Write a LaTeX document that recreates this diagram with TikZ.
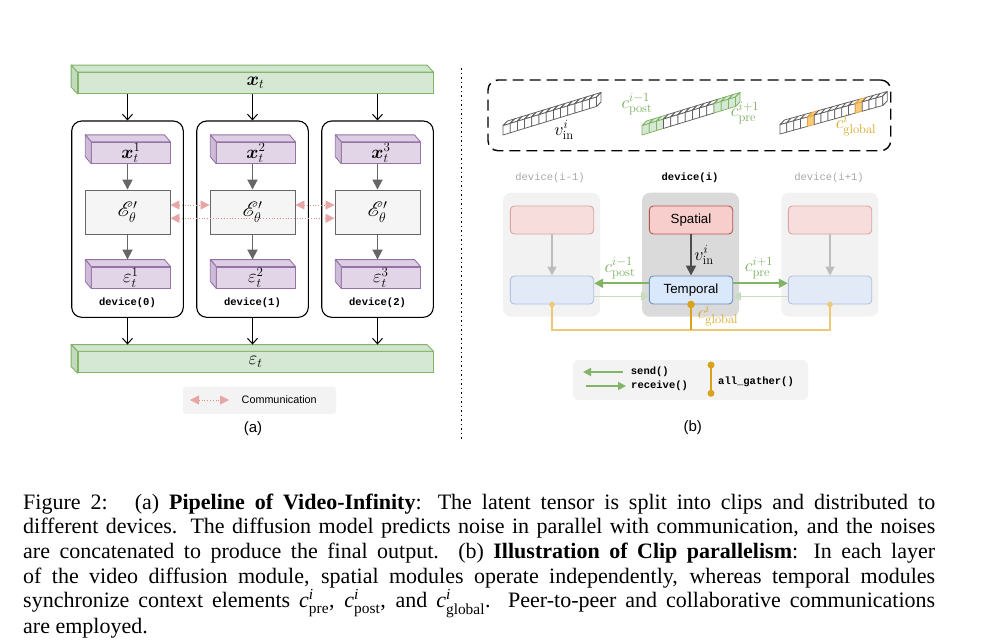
\RequirePackage{fix-cm}
\documentclass[tikz,border=0pt]{standalone}
\usepackage{fontspec}
\usepackage{amsmath,amssymb,mathrsfs,bm}
\setsansfont{Liberation Sans}
\setmonofont{Liberation Mono}
\newfontfamily\capfont{Liberation Serif}
\usetikzlibrary{arrows.meta,calc}

\definecolor{gfill}{HTML}{D5E8D4}
\definecolor{gtop}{HTML}{D0E5CE}
\definecolor{gside}{HTML}{C2DBBF}
\definecolor{gstroke}{HTML}{82B366}
\definecolor{pfill}{HTML}{E1D5E7}
\definecolor{ptop}{HTML}{DCCFE3}
\definecolor{pside}{HTML}{CDBCD7}
\definecolor{pstroke}{HTML}{9673A6}
\definecolor{efill}{HTML}{F5F5F5}
\definecolor{estroke}{HTML}{666666}
\definecolor{commhead}{HTML}{E8A5A5}
\definecolor{commline}{HTML}{E58C8C}
\definecolor{legbg}{HTML}{F3F3F3}
\definecolor{bgL}{HTML}{F2F2F2}
\definecolor{bgM}{HTML}{DADADA}
\definecolor{fadetxt}{HTML}{A8A8A8}
\definecolor{sfill}{HTML}{F8CECC}
\definecolor{sstroke}{HTML}{B85450}
\definecolor{sfillF}{HTML}{F7DEDD}
\definecolor{sstrokeF}{HTML}{D9A5A3}
\definecolor{tfill}{HTML}{DAE8FC}
\definecolor{tstroke}{HTML}{6C8EBF}
\definecolor{tfillF}{HTML}{E2EAF8}
\definecolor{tstrokeF}{HTML}{AFC1DF}
\definecolor{farrow}{HTML}{BDBDBD}
\definecolor{fgreen}{HTML}{C8DDBD}
\definecolor{gold}{HTML}{D9A21B}
\definecolor{goldF}{HTML}{EACA78}
\definecolor{glabel}{HTML}{78AD5C}
\definecolor{ofill}{HTML}{F8CB7A}
\definecolor{ostroke}{HTML}{E6A23C}
\definecolor{cubeedge}{HTML}{606060}
\definecolor{darkarr}{HTML}{4D4D4D}

\newcommand\prismfaces[6]{%
  \filldraw[draw=#6, fill=#4, line width=0.9pt, line join=round]
    (#1.north west) -- ++(-#2,-#3) -- ($(#1.north east)+(-#2,-#3)$) -- (#1.north east) -- cycle;
  \filldraw[draw=#6, fill=#5, line width=0.9pt, line join=round]
    (#1.north west) -- ++(-#2,-#3) -- ($(#1.south west)+(-#2,-#3)$) -- (#1.south west) -- cycle;
}
% one cube: bottom-left (x,y), step ux, rise r, fill, stroke
\newcommand\onecube[6]{%
  \filldraw[draw=#6, fill=#5, line width=0.75pt, line join=round]
    (#1,#2) -- ++(#3,-#4) -- ++(0,-9.5) -- ++(-#3,#4) -- cycle;
  \filldraw[draw=#6, fill=#5, line width=0.75pt, line join=round]
    (#1,#2-9.5) -- ++(#3,-#4) -- ++(4.5,-4.5) -- ++(-#3,#4) -- cycle;
}
\newcommand\cubeend[6]{%
  \filldraw[draw=#6, fill=#5, line width=0.75pt, line join=round]
    (#1+#3,#2-#4) -- ++(4.5,-4.5) -- ++(0,-9.5) -- ++(-4.5,4.5) -- cycle;
}
\newcommand\ctxsym[1]{$\textit{c}^{\textit{i}}_{\text{#1}}$}

\begin{document}
\begin{tikzpicture}[x=1pt,y=-1pt,
  bar/.style={draw=gstroke, fill=gfill, line width=0.9pt, minimum width=355pt, minimum height=21pt, inner sep=0, font=\fontsize{19}{22}\selectfont},
  pbox/.style={draw=pstroke, fill=pfill, line width=0.9pt, minimum width=78.3pt, minimum height=21pt, inner sep=0, font=\fontsize{18.5}{21}\selectfont},
  ebox/.style={draw=estroke, fill=efill, line width=0.9pt, minimum width=85pt, minimum height=44pt, inner sep=0, font=\fontsize{20}{23}\selectfont},
  devbox/.style={draw=black, rounded corners=10pt, line width=1.1pt, minimum width=111.6pt, minimum height=196.3pt, inner sep=0},
  blk/.style={draw=black, line width=1pt, -{Straight Barb[length=5.5pt,width=10pt]}},
  gry/.style={draw=estroke, line width=1.8pt, -{Triangle[length=10pt,width=10pt]}},
  comm/.style={draw=commline, dotted, line width=0.8pt,
     {Triangle[length=9pt,width=9pt,fill=commhead,color=commhead]}-{Triangle[length=9pt,width=9pt,fill=commhead,color=commhead]}},
  devlbl/.style={font=\fontsize{10.5}{12}\selectfont\ttfamily\bfseries, inner sep=0},
  mono/.style={font=\fontsize{10.5}{12}\selectfont\ttfamily\bfseries, inner sep=0},
  mathb/.style={font=\fontsize{18}{21}\selectfont, inner sep=0},
  sbox/.style={draw=sstroke, fill=sfill, line width=0.9pt, rounded corners=4pt, minimum width=83.4pt, minimum height=28pt, inner sep=0, font=\fontsize{13.3}{16}\selectfont\sffamily},
  sboxF/.style={draw=sstrokeF, fill=sfillF, line width=0.9pt, rounded corners=4pt, minimum width=83.4pt, minimum height=28pt, inner sep=0},
  tbox/.style={draw=tstroke, fill=tfill, line width=0.9pt, rounded corners=4pt, minimum width=83.4pt, minimum height=28pt, inner sep=0, font=\fontsize{13.3}{16}\selectfont\sffamily},
  tboxF/.style={draw=tstrokeF, fill=tfillF, line width=0.9pt, rounded corners=4pt, minimum width=83.4pt, minimum height=28pt, inner sep=0},
  bgbox/.style={rounded corners=8pt, minimum width=97pt, minimum height=124pt, inner sep=0},
  darr/.style={draw=darkarr, line width=2pt, -{Triangle[length=10pt,width=10pt]}},
  farr/.style={draw=farrow, line width=1.3pt, -{Triangle[length=9pt,width=9pt]}},
  garr/.style={draw=gstroke, line width=2pt, -{Triangle[length=9pt,width=9pt]}},
  garrS/.style={draw=gstroke, line width=1.8pt, -{Triangle[length=8pt,width=8pt]}},
  fgarr/.style={draw=fgreen, line width=1.5pt, -{Triangle[length=8pt,width=8pt]}},
]
\useasboundingbox (0,0) rectangle (1000,640);

% ================= (a) =================
\node[bar] (xt) at (255.5,83) {$\bm{x}_t$};
\prismfaces{xt}{6.5}{7}{gtop}{gside}{gstroke}

\foreach \i/\cx in {1/127.5, 2/252.5, 3/377.5}{
  \pgfmathtruncatemacro\dn{\i-1}
  \node[devbox] (dev\i) at (\cx,219.15) {};
  \node[pbox] (x\i) at (\cx+3.35,152.8) {$\bm{x}_t^{\i}$};
  \prismfaces{x\i}{6}{7}{ptop}{pside}{pstroke}
  \node[ebox] (E\i) at (\cx,212) {$\mathscr{E}'_\theta$};
  \node[pbox] (e\i) at (\cx+3.35,277.5) {$\varepsilon_t^{\i}$};
  \prismfaces{e\i}{6}{7}{ptop}{pside}{pstroke}
  \node[devlbl] (d\i) at (\cx,302.7) {device(\dn)};
  \draw[blk] (xt.south -| dev\i.north) -- (dev\i.north);
  \draw[gry] (x\i.south -| E\i.north) -- (E\i.north);
  \draw[gry] (E\i.south) -- ($(E\i.south |- e\i.north)+(0,-7)$);
}

\node[bar] (et) at (255.5,362.2) {$\varepsilon_t$};
\prismfaces{et}{6.5}{6.7}{gtop}{gside}{gstroke}
\foreach \i in {1,2,3}{
  \draw[blk] (dev\i.south) -- ($(dev\i.south |- et.north)+(0,-6.7)$);
}

\draw[comm] ([yshift=7pt]E1.east) -- ([yshift=7pt]E2.west);
\draw[comm] ([yshift=7pt]E2.east) -- ([yshift=7pt]E3.west);
\draw[comm] ([yshift=-6.3pt]E1.east) -- ([yshift=-6.3pt]E3.west);

\node[fill=legbg, rounded corners=3pt, minimum width=153pt, minimum height=27.3pt, inner sep=0] (lega) at (259.5,400.3) {};
\coordinate (ca1) at (190,400);
\coordinate (ca2) at (229,400);
\draw[comm] (ca1) -- (ca2);
\node[anchor=west, inner sep=0, font=\fontsize{10.8}{13}\selectfont\sffamily] (commtxt) at (241.5,400) {Communication};
\node[inner sep=0, font=\fontsize{15}{18}\selectfont\sffamily] (la) at (253,429) {(a)};

% divider
\draw[line width=1pt, dash pattern=on 1.5pt off 3pt] (461,68) -- (461,440);

% ================= (b) =================
\node[draw, dash pattern=on 11pt off 6pt, line width=1.4pt, rounded corners=10pt, minimum width=402.7pt, minimum height=70.7pt, inner sep=0] (ctxbox) at (689.35,115.35) {};

% strip 1
\foreach \k in {0,...,12}{
  \pgfmathsetmacro\px{503+7.2*\k}
  \pgfmathsetmacro\py{135-2.2*\k}
  \onecube{\px}{\py}{7.2}{2.2}{white}{cubeedge}
}
\cubeend{589.4}{108.6}{7.2}{2.2}{white}{cubeedge}
% strip 2
\foreach \k in {0,...,12}{
  \pgfmathsetmacro\px{642+7.2*\k}
  \pgfmathsetmacro\py{135-2.2*\k}
  \ifnum\k<3 \def\cf{gfill}\def\cs{gstroke}\else
    \ifnum\k>9 \def\cf{gfill}\def\cs{gstroke}\else \def\cf{white}\def\cs{cubeedge}\fi\fi
  \onecube{\px}{\py}{7.2}{2.2}{\cf}{\cs}
}
\cubeend{728.4}{108.6}{7.2}{2.2}{gfill}{gstroke}
% strip 3
\foreach \k in {0,...,14}{
  \pgfmathsetmacro\px{780+6.85*\k}
  \pgfmathsetmacro\py{134-1.9*\k}
  \ifnum\k=4 \def\cf{ofill}\def\cs{ostroke}\else
    \ifnum\k=11 \def\cf{ofill}\def\cs{ostroke}\else \def\cf{white}\def\cs{cubeedge}\fi\fi
  \onecube{\px}{\py}{6.85}{1.9}{\cf}{\cs}
}
\cubeend{875.9}{107.4}{6.85}{1.9}{white}{cubeedge}

\node[mathb] (vin) at (564,130) {$v_{\mathrm{in}}^{i}$};
\node[mathb, text=glabel] (cpost) at (637,104) {$c_{\mathrm{post}}^{i-1}$};
\node[mathb, text=glabel] (cpre) at (745,113) {$c_{\mathrm{pre}}^{i+1}$};
\node[mathb, text=gold] (cglob) at (856,125) {$c_{\mathrm{global}}^{i}$};

% devices
\node[font=\fontsize{10.5}{12}\selectfont\ttfamily, text=fadetxt, inner sep=0] (dlL) at (550,178) {device(i-1)};
\node[devlbl] (dlM) at (690,178) {device(i)};
\node[font=\fontsize{10.5}{12}\selectfont\ttfamily, text=fadetxt, inner sep=0] (dlR) at (829,178) {device(i+1)};

\node[bgbox, fill=bgL] (bgL) at (551.5,254.7) {};
\node[bgbox, fill=bgM] (bgM) at (690.5,254.7) {};
\node[bgbox, fill=bgL] (bgR) at (829.8,254.7) {};

\node[sbox] (spM) at (691,220) {Spatial};
\node[sboxF] (spL) at (552,220) {};
\node[sboxF] (spR) at (830,220) {};
\node[tbox] (tpM) at (691,290) {Temporal};
\node[tboxF] (tpL) at (552,290) {};
\node[tboxF] (tpR) at (830,290) {};

\draw[darr] (spM) -- (tpM);
\draw[farr] (spL) -- (tpL);
\draw[farr] (spR) -- (tpR);

\draw[garr] ([yshift=6.7pt]tpM.west) -- ([yshift=6.7pt]tpL.east);
\draw[garr] ([yshift=6.7pt]tpM.east) -- ([yshift=6.7pt]tpR.west);
\draw[fgarr] ([yshift=-6.3pt]tpL.east) -- ([yshift=-6.3pt]tpM.west);
\draw[fgarr] ([yshift=-6.3pt]tpR.west) -- ([yshift=-6.3pt]tpM.east);

\coordinate (gbus) at (691,330);
\draw[goldF, line width=1.3pt] (tpL.south) -- (tpL.south |- gbus) -- (tpR.south |- gbus) -- (tpR.south);
\fill[goldF] (tpL.south) circle[radius=2.8pt];
\fill[goldF] (tpR.south) circle[radius=2.8pt];
\draw[gold, line width=2pt] (tpM.south) -- (tpM.south |- gbus);
\fill[gold] (tpM.south) circle[radius=3.8pt];

\node[mathb] (vin2) at (704,255) {$v_{\mathrm{in}}^{i}$};
\node[mathb, text=glabel] (cpost2) at (620,268) {$c_{\mathrm{post}}^{i-1}$};
\node[mathb, text=glabel] (cpre2) at (759,268) {$c_{\mathrm{pre}}^{i+1}$};
\node[mathb, text=gold] (cglob2) at (718,315) {$c_{\mathrm{global}}^{i}$};

% legend (b)
\node[fill=legbg, rounded corners=6pt, minimum width=235pt, minimum height=40pt, inner sep=0] (legb) at (690.5,380) {};
\coordinate (s1) at (623,372);
\coordinate (s2) at (583,372);
\draw[garrS] (s1) -- (s2);
\coordinate (r1) at (586,386);
\coordinate (r2) at (626,386);
\draw[garrS] (r1) -- (r2);
\node[mono, anchor=west] (sendt) at (630.7,372) {send()};
\node[mono, anchor=west] (recvt) at (631,386) {receive()};
\coordinate (ag1) at (711,365);
\coordinate (ag2) at (711,393.3);
\draw[gold, line width=2pt] (ag1) -- (ag2);
\fill[gold] (ag1) circle[radius=3.5pt];
\fill[gold] (ag2) circle[radius=3.5pt];
\node[mono, anchor=west] (agt) at (718,381.7) {all\_gather()};
\node[inner sep=0, font=\fontsize{15}{18}\selectfont\sffamily] (lb) at (692.7,428) {(b)};

% caption
\node[anchor=base west, inner sep=0, font=\capfont\fontsize{22}{24.7}\selectfont] (cap) at (23,509) {\parbox[t]{912pt}{%
Figure 2:\hspace{0.5em} (a) \textbf{Pipeline of Video-Infinity}: The latent tensor is split into clips and distributed to\linebreak
different devices. The diffusion model predicts noise in parallel with communication, and the noises\linebreak
are concatenated to produce the final output. (b) \textbf{Illustration of Clip parallelism}: In each layer\linebreak
of the video diffusion module, spatial modules operate independently, whereas temporal modules\linebreak
synchronize context elements \ctxsym{pre}, \ctxsym{post}, and \ctxsym{global}. Peer-to-peer and collaborative communications\linebreak
are employed.}};
\end{tikzpicture}
\end{document}
